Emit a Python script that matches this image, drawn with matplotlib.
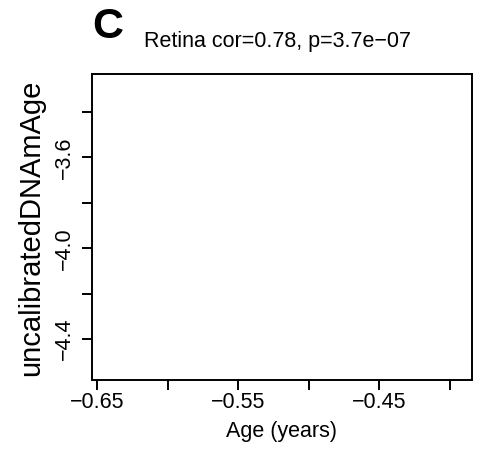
import matplotlib
matplotlib.use("Agg")
import matplotlib.pyplot as plt

plt.rcParams['font.family'] = ['Liberation Sans', 'DejaVu Sans']

# Data (no points are visible in the reference panel)
ages = []
dnam_age = []
x_ticks = [-0.65, -0.60, -0.55, -0.50, -0.45, -0.40]
x_tick_labels = ['\u22120.65', '', '\u22120.55', '', '\u22120.45', '']
y_ticks = [-3.4, -3.6, -3.8, -4.0, -4.2, -4.4]
y_tick_labels = ['', '\u22123.6', '', '\u22124.0', '', '\u22124.4']
x_limits = (-0.65376, -0.3844)
y_limits = (-4.578, -3.2326)
title = 'Retina cor=0.78, p=3.7e\u221207'
panel_letter = 'C'
xlabel = 'Age (years)'
ylabel = 'uncalibratedDNAmAge'

W, H = 482, 458
fig = plt.figure(figsize=(W / 100, H / 100), dpi=100)
left, right, top, bottom = 92, 472, 74, 379.5
ax = fig.add_axes([left / W, (H - bottom) / H, (right - left) / W, (bottom - top) / H])

ax.scatter(ages, dnam_age, color='black', s=20)
ax.set_xlim(*x_limits)
ax.set_ylim(*y_limits)
ax.set_xticks(x_ticks)
ax.set_xticklabels(x_tick_labels)
ax.set_yticks(y_ticks)
ax.set_yticklabels(y_tick_labels, rotation=90, va='center')
ax.tick_params(axis='both', direction='out', length=7.2, width=1.4, labelsize=15.5, color='black')
ax.tick_params(axis='x', pad=2)
ax.tick_params(axis='y', pad=5)
for s in ax.spines.values():
    s.set_linewidth(1.4)

fig.text(282 / W, 1 - 432 / H, xlabel, ha='center', va='center', fontsize=15.5)
fig.text(31 / W, 1 - 228 / H, ylabel, ha='center', va='center', rotation=90, fontsize=21)
fig.text(277 / W, 1 - 47 / H, title, ha='center', va='baseline', fontsize=15.5)
fig.text(92 / W, 1 - 38 / H, panel_letter, ha='left', va='baseline', fontsize=31, fontweight='bold')

fig.savefig('out.png', dpi=100)
